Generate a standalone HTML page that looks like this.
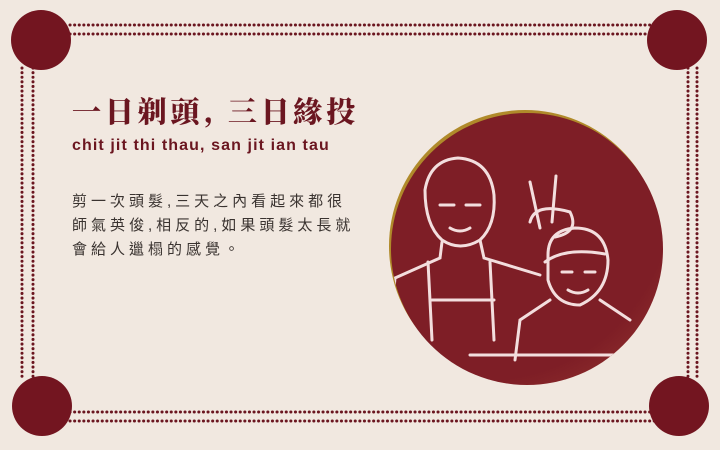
<!DOCTYPE html>
<html><head><meta charset="utf-8"><style>
body{margin:0;width:720px;height:450px;background:#f1e8e0;position:relative;overflow:hidden;font-family:"Liberation Sans","Noto Sans CJK TC",sans-serif}
svg{position:absolute;left:0;top:0}
.t{position:absolute;left:72px;color:#6b1620;white-space:nowrap}
</style></head><body>
<svg width="720" height="450">
<defs><radialGradient id="g" cx="0.35" cy="0.3" r="0.8"><stop offset="0.85" stop-color="#7e1e26"/><stop offset="1" stop-color="#8a2a2a"/></radialGradient></defs>
<g stroke="#6b1620" stroke-width="3" stroke-dasharray="0.1 4.5" stroke-linecap="round" fill="none">
<line x1="70" y1="25" x2="680" y2="25"/><line x1="70" y1="34" x2="680" y2="34"/>
<line x1="70" y1="412" x2="680" y2="412"/><line x1="70" y1="421" x2="680" y2="421"/>
<line x1="22" y1="68" x2="22" y2="380"/><line x1="33" y1="68" x2="33" y2="380"/>
<line x1="688" y1="68" x2="688" y2="380"/><line x1="697" y1="68" x2="697" y2="380"/>
</g>
<g fill="#731520">
<circle cx="41" cy="40" r="30"/><circle cx="677" cy="40" r="30"/><circle cx="42" cy="406" r="30"/><circle cx="679" cy="406" r="30"/>
</g>
<circle cx="525" cy="246" r="136" fill="#b08a2a"/>
<circle cx="527" cy="249" r="136" fill="url(#g)"/>
<clipPath id="c"><circle cx="527" cy="249" r="136"/></clipPath>
<g clip-path="url(#c)" stroke="#f3dede" stroke-width="3" fill="none" stroke-linecap="round">
<path d="M425 190 Q430 160 458 158 Q490 160 494 195 Q496 225 480 240 Q460 252 442 240 Q425 225 425 190Z"/>
<path d="M440 205 h14 M466 205 h14 M450 228 q10 6 20 0"/>
<path d="M442 242 L440 258 L395 278 L390 330 M480 240 L484 258 L540 275"/>
<path d="M428 262 L432 340 M490 262 L494 340 M432 300 H494"/>
<path d="M540 228 L530 182 M552 222 L556 176 M530 222 q5 -20 40 -10 q10 20 -15 25"/>
<path d="M548 255 Q548 230 575 228 Q605 228 608 260 Q608 292 580 305 Q555 305 548 280Z"/>
<path d="M545 262 q20 -15 60 -8 M562 272 h10 M585 272 h10 M568 290 q10 6 20 0"/>
<path d="M550 300 L520 320 L515 360 M600 300 L630 320 M470 355 H640"/>
</g>
</svg>
<div class="t" style="top:90px;font-family:'Noto Serif CJK SC','Noto Serif CJK TC',serif;font-weight:900;font-size:29px;letter-spacing:3.8px">一日剃頭, 三日緣投</div>
<div class="t" style="top:137px;font-size:16px;font-weight:bold;letter-spacing:1.1px">chit jit thi thau, san jit ian tau</div>
<div class="t" style="top:190px;font-size:15px;line-height:24px;letter-spacing:4px;color:#3a3330">剪一次頭髮,三天之內看起來都很<br>師氣英俊,相反的,如果頭髮太長就<br>會給人邋榻的感覺。</div>
</body></html>
